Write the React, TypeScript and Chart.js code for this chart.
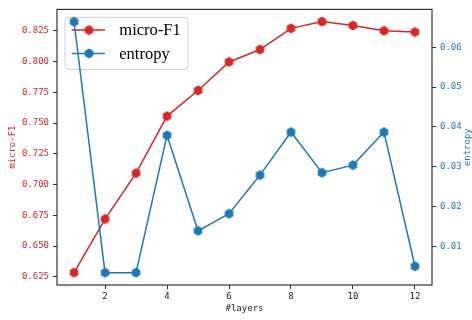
import React, { useEffect, useRef } from 'react';
import { Chart, registerables } from 'chart.js';

Chart.register(...registerables);

const layers = [1, 2, 3, 4, 5, 6, 7, 8, 9, 10, 11, 12];
const microF1 = [0.6285, 0.672, 0.7093, 0.7557, 0.7765, 0.7997, 0.8098, 0.827, 0.8325, 0.8293, 0.825, 0.824];
const entropy = [0.0664, 0.0034, 0.0034, 0.0379, 0.0139, 0.0182, 0.0279, 0.0387, 0.0285, 0.0304, 0.0387, 0.005];
const xTicks = [2, 4, 6, 8, 10, 12];
const leftTicks = [0.625, 0.65, 0.675, 0.7, 0.725, 0.75, 0.775, 0.8, 0.825];
const rightTicks = [0.01, 0.02, 0.03, 0.04, 0.05, 0.06];

const RED = '#d62728';
const BLUE = '#1f77b4';
const MONO = '"DejaVu Sans Mono", monospace';

function makeHex(color: string): HTMLCanvasElement {
  const c = document.createElement('canvas');
  c.width = 11;
  c.height = 11;
  const g = c.getContext('2d')!;
  g.beginPath();
  for (let i = 0; i < 6; i++) {
    const a = -Math.PI / 2 + (i * Math.PI) / 3;
    const px = 5.5 + 4.9 * Math.cos(a);
    const py = 5.5 + 4.9 * Math.sin(a);
    if (i === 0) g.moveTo(px, py);
    else g.lineTo(px, py);
  }
  g.closePath();
  g.fillStyle = color;
  g.fill();
  return c;
}

export default function App() {
  const ref = useRef<HTMLCanvasElement>(null);

  useEffect(() => {
    document.body.style.margin = '0';
    const redHex = makeHex(RED);
    const blueHex = makeHex(BLUE);

    const legendPlugin = {
      id: 'customLegend',
      beforeDatasetDraw(chart: any, args: any) {
        if (args.index !== 1) return;
        const ctx = chart.ctx;
        const ca = chart.chartArea;
        const lx = ca.left + 8;
        const ly = ca.top + 8;
        const w = 123;
        const h = 52;
        ctx.save();
        ctx.beginPath();
        if (ctx.roundRect) ctx.roundRect(lx, ly, w, h, 4);
        else ctx.rect(lx, ly, w, h);
        ctx.fillStyle = 'rgba(255,255,255,0.8)';
        ctx.fill();
        ctx.strokeStyle = '#d0d0d0';
        ctx.lineWidth = 1;
        ctx.stroke();
        const rows = [
          { label: 'micro-F1', color: RED, img: redHex, y: ly + 12.7 },
          { label: 'entropy', color: BLUE, img: blueHex, y: ly + 36 },
        ];
        rows.forEach((r) => {
          ctx.beginPath();
          ctx.strokeStyle = r.color;
          ctx.lineWidth = 1.5;
          ctx.moveTo(lx + 6.7, r.y);
          ctx.lineTo(lx + 40, r.y);
          ctx.stroke();
          ctx.drawImage(r.img, lx + 24 - r.img.width / 2, r.y - r.img.height / 2);
          ctx.fillStyle = '#000';
          ctx.font = '16.5px "Liberation Serif", "Times New Roman", serif';
          ctx.textBaseline = 'middle';
          ctx.textAlign = 'left';
          ctx.fillText(r.label, lx + 54.3, r.y + 1);
        });
        ctx.restore();
      },
    };

    const framePlugin = {
      id: 'frame',
      afterDraw(chart: any) {
        const ctx = chart.ctx;
        const ca = chart.chartArea;
        ctx.save();
        ctx.strokeStyle = '#333';
        ctx.lineWidth = 1.2;
        ctx.strokeRect(ca.left, ca.top, ca.right - ca.left, ca.bottom - ca.top);
        ctx.translate(468, (ca.top + ca.bottom) / 2);
        ctx.rotate(-Math.PI / 2);
        ctx.fillStyle = BLUE;
        ctx.font = '9px ' + MONO;
        ctx.textAlign = 'center';
        ctx.textBaseline = 'middle';
        ctx.fillText('entropy', 0, 0);
        ctx.restore();
      },
    };

    const chart = new Chart(ref.current!, {
      type: 'line',
      data: {
        labels: layers,
        datasets: [
          {
            label: 'micro-F1',
            data: layers.map((x, i) => ({ x, y: microF1[i] })),
            borderColor: RED,
            backgroundColor: RED,
            borderWidth: 1.5,
            pointStyle: redHex as any,
            pointRadius: 5,
            yAxisID: 'y',
            order: 1,
          },
          {
            label: 'entropy',
            data: layers.map((x, i) => ({ x, y: entropy[i] })),
            borderColor: BLUE,
            backgroundColor: BLUE,
            borderWidth: 1.5,
            pointStyle: blueHex as any,
            pointRadius: 5,
            yAxisID: 'y1',
            order: 0,
          },
        ],
      },
      options: {
        animation: false,
        responsive: false,
        layout: { padding: { top: 5, left: 0, right: 0, bottom: 0 } },
        plugins: { legend: { display: false }, tooltip: { enabled: false } },
        scales: {
          x: {
            type: 'linear',
            min: 0.45,
            max: 12.55,
            position: 'bottom',
            afterFit: (s: any) => {
              s.height = 35;
            },
            afterBuildTicks: (s: any) => {
              s.ticks = xTicks.map((v) => ({ value: v }));
            },
            grid: { display: true, drawOnChartArea: false, drawTicks: true, tickLength: 4, tickColor: '#333', tickWidth: 1 },
            border: { display: false },
            ticks: { font: { family: MONO, size: 9 }, color: '#222', padding: 2, maxRotation: 0, autoSkip: false },
            title: { display: true, text: '#layers', font: { family: MONO, size: 9 }, color: '#222', padding: { top: 0, bottom: 5.6 } },
          },
          y: {
            type: 'linear',
            position: 'left',
            min: 0.6184,
            max: 0.8424,
            afterFit: (s: any) => {
              s.width = 57;
            },
            afterBuildTicks: (s: any) => {
              s.ticks = leftTicks.map((v) => ({ value: v }));
            },
            grid: { display: true, drawOnChartArea: false, drawTicks: true, tickLength: 4, tickColor: '#333', tickWidth: 1 },
            border: { display: false },
            ticks: {
              font: { family: MONO, size: 9 },
              color: RED,
              padding: 4,
              autoSkip: false,
              callback: (v: any) => Number(v).toFixed(3),
            },
            title: { display: true, text: 'micro-F1', font: { family: MONO, size: 9 }, color: RED, padding: { top: 7.6, bottom: 0 } },
          },
          y1: {
            type: 'linear',
            position: 'right',
            min: 0.0003,
            max: 0.0695,
            afterFit: (s: any) => {
              s.width = 40;
            },
            afterBuildTicks: (s: any) => {
              s.ticks = rightTicks.map((v) => ({ value: v }));
            },
            grid: { display: true, drawOnChartArea: false, drawTicks: true, tickLength: 4, tickColor: '#333', tickWidth: 1 },
            border: { display: false },
            ticks: {
              font: { family: MONO, size: 9 },
              color: BLUE,
              padding: 4,
              autoSkip: false,
              callback: (v: any) => Number(v).toFixed(2),
            },
          },
        },
      },
      plugins: [legendPlugin, framePlugin],
    });

    return () => chart.destroy();
  }, []);

  return <canvas ref={ref} width={472} height={320} style={{ display: 'block' }} />;
}
